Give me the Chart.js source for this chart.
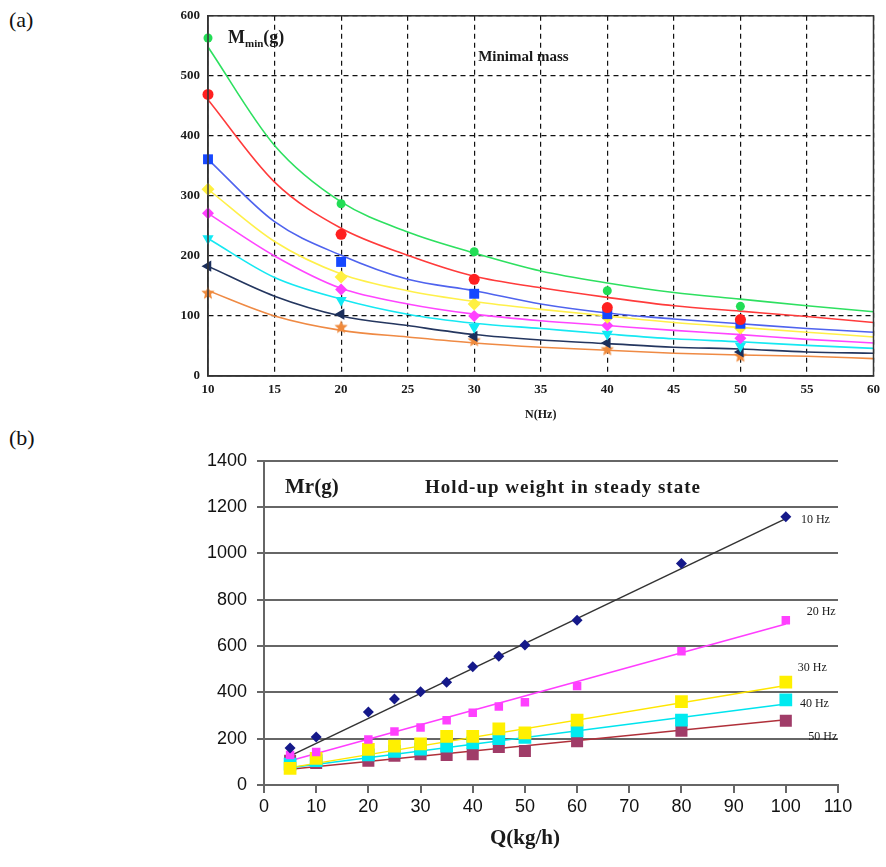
<!DOCTYPE html>
<html>
<head>
<meta charset="utf-8">
<script src="https://cdn.jsdelivr.net/npm/chart.js@4.4.1/dist/chart.umd.min.js"></script>
<style>
  body { margin: 0; background: #fff; width: 886px; height: 867px; position: relative; overflow: hidden; }
  canvas { position: absolute; }
  .tag { position: absolute; font-family: "Liberation Serif", serif; font-size: 22px; color: #111; }
</style>
</head>
<body>
<div class="tag" style="left:9px; top:7px;">(a)</div>
<div class="tag" style="left:9px; top:425px;">(b)</div>
<canvas id="chartA" width="736" height="430" style="left:150px; top:0px;"></canvas>
<canvas id="chartB" width="736" height="427" style="left:150px; top:440px;"></canvas>
<script>
// ---- (a) minimal mass vs frequency ----
const nHz = [10, 20, 30, 40, 50];
const mGreen = [563, 287, 207, 142, 116];
const mRed = [469, 236, 161, 114, 94];
const mBlue = [361, 190, 137, 103, 87];
const mYellow = [311, 165, 120, 98, 80];
const mMagenta = [271, 144, 100, 84, 63];
const mCyan = [229, 126, 81, 70, 50];
const mNavy = [183, 103, 66, 55, 40];
const mOrange = [138, 81, 59, 44, 33];

// fitted curves read at every 5 Hz
const nCurve = [10, 15, 20, 25, 30, 35, 40, 45, 50, 55, 60];
const cGreen = [548, 384, 290, 240, 205, 175, 155, 139, 128, 117, 107];
const cRed = [460, 323, 246, 201, 166, 147, 131, 117, 108, 99, 89];
const cBlue = [361, 257, 201, 161, 142, 120, 105, 95, 87, 79, 73];
const cYellow = [311, 224, 170, 142, 124, 111, 100, 89, 81, 73, 65];
const cMagenta = [271, 200, 146, 120, 103, 92, 84, 76, 69, 61, 55];
const cCyan = [229, 164, 128, 103, 88, 79, 70, 62, 57, 51, 46];
const cNavy = [183, 133, 100, 84, 69, 60, 54, 48, 45, 40, 38];
const cOrange = [142, 100, 76, 65, 55, 48, 43, 38, 35, 33, 29];

// ---- (b) hold-up weight vs flow rate ----
const qFlow = [5, 10, 20, 25, 30, 35, 40, 45, 50, 60, 80, 100];
const hz10 = [160, 207, 315, 371, 403, 444, 511, 556, 605, 711, 957, 1158];
const hz20 = [130, 143, 196, 231, 248, 280, 312, 339, 357, 427, 578, 711];
const hz30 = [72, 115, 154, 168, 178, 210, 210, 242, 225, 280, 360, 444];
const hz40 = [90, 105, 130, 145, 155, 168, 182, 200, 206, 234, 280, 368];
const hz50 = [105, 95, 105, 126, 133, 130, 133, 164, 147, 189, 234, 277];

const fitQ = [5, 100];
const fit10 = [126, 1150];
const fit20 = [105, 695];
const fit30 = [75, 430];
const fit40 = [75, 350];
const fit50 = [68, 282];

const hzLabels = ['10 Hz', '20 Hz', '30 Hz', '40 Hz', '50 Hz'];
const hzLabelX = [102.9, 104, 102.3, 102.7, 104.3];
const hzLabelY = [1143, 748, 504, 349, 210];

const serif = '"Liberation Serif", "Times New Roman", serif';

function pts(xs, ys) {
    return xs.map((x, i) => ({ x: x, y: ys[i] }));
}

// filled five point star for the orange series
function starImage(color, r) {
    const c = document.createElement('canvas');
    c.width = r * 2 + 2;
    c.height = r * 2 + 2;
    const g = c.getContext('2d');
    g.fillStyle = color;
    g.beginPath();
    for (let i = 0; i < 10; i++) {
        const rr = i % 2 === 0 ? r : r * 0.45;
        const a = -Math.PI / 2 + i * Math.PI / 5;
        const px = r + 1 + rr * Math.cos(a);
        const py = r + 1 + rr * Math.sin(a);
        if (i === 0) g.moveTo(px, py); else g.lineTo(px, py);
    }
    g.closePath();
    g.fill();
    return c;
}

function curve(ys, color) {
    return {
        type: 'line', data: pts(nCurve, ys), borderColor: color, borderWidth: 1.6,
        pointRadius: 0, cubicInterpolationMode: 'monotone', order: 2
    };
}
function marks(ys, color, style, radius, rotation) {
    return {
        type: 'scatter', data: pts(nHz, ys), backgroundColor: color, borderColor: color,
        pointStyle: style, pointRadius: radius, pointRotation: rotation || 0, borderWidth: 0,
        order: 1, clip: false
    };
}

const frameA = {
    id: 'frameA',
    afterDraw(chart) {
        const { ctx, chartArea: a, scales } = chart;
        ctx.save();
        ctx.strokeStyle = '#333';
        ctx.lineWidth = 1.5;
        ctx.strokeRect(a.left, a.top, a.right - a.left, a.bottom - a.top);
        ctx.fillStyle = '#1a1a1a';
        ctx.textBaseline = 'alphabetic';
        ctx.textAlign = 'left';
        let x = a.left + 20;
        const yb = a.top + 27;
        ctx.font = 'bold 18px ' + serif;
        ctx.fillText('M', x, yb);
        x += ctx.measureText('M').width;
        ctx.font = 'bold 11px ' + serif;
        ctx.fillText('min', x, yb + 4);
        x += ctx.measureText('min').width;
        ctx.font = 'bold 18px ' + serif;
        ctx.fillText('(g)', x, yb);
        ctx.font = 'bold 15px ' + serif;
        ctx.fillText('Minimal mass', scales.x.getPixelForValue(30.3), a.top + 45);
        ctx.restore();
    }
};

new Chart(document.getElementById('chartA'), {
    data: {
        datasets: [
            curve(cGreen, '#2ee060'), curve(cRed, '#ff3b3b'), curve(cBlue, '#4f63ee'),
            curve(cYellow, '#fff04a'), curve(cMagenta, '#ff45ff'), curve(cCyan, '#16e8f2'),
            curve(cNavy, '#24365f'), curve(cOrange, '#ef8a44'),
            marks(mGreen, '#22dd55', 'circle', 4.5),
            marks(mRed, '#ff2020', 'circle', 5.5),
            marks(mBlue, '#1648ff', 'rect', 7),
            marks(mYellow, '#fff040', 'rectRot', 6.5),
            marks(mMagenta, '#ff40ff', 'rectRot', 6),
            marks(mCyan, '#10eaf5', 'triangle', 6.5, 180),
            marks(mNavy, '#1b2f5c', 'triangle', 6.5, -90),
            marks(mOrange, '#ef8a3c', starImage('#ef8a3c', 7), 7)
        ]
    },
    options: {
        responsive: false,
        animation: false,
        layout: { padding: { top: 12, right: 9, left: 0, bottom: 8 } },
        plugins: { legend: { display: false }, tooltip: { enabled: false } },
        scales: {
            x: {
                type: 'linear', min: 10, max: 60,
                ticks: { stepSize: 5, color: '#1a1a1a', padding: 6, font: { family: serif, size: 13, weight: 'bold' } },
                grid: { color: '#111', lineWidth: 1.2, drawTicks: false },
                border: { display: true, color: '#333', width: 1.5, dash: [5, 4] },
                title: { display: true, text: 'N(Hz)', color: '#1a1a1a', padding: { top: 0, bottom: 0 }, font: { family: serif, size: 12, weight: 'bold' } },
                afterFit(s) { s.height = 46; }
            },
            y: {
                min: 0, max: 600,
                ticks: { stepSize: 100, color: '#1a1a1a', padding: 8, font: { family: serif, size: 13, weight: 'bold' } },
                grid: { color: '#111', lineWidth: 1.2, drawTicks: false },
                border: { display: true, color: '#333', width: 1.5, dash: [5, 4] },
                afterFit(s) { s.width = 58; }
            }
        }
    },
    plugins: [frameA]
});

// ---- chart (b) ----
function fitLine(ys, color) {
    return { type: 'line', data: pts(fitQ, ys), borderColor: color, borderWidth: 1.5, pointRadius: 0, order: 2 };
}
function dots(ys, color, style, radius) {
    return {
        type: 'scatter', data: pts(qFlow, ys), backgroundColor: color, borderColor: color,
        pointStyle: style, pointRadius: radius, borderWidth: 0, order: 1
    };
}

const textB = {
    id: 'textB',
    afterDraw(chart) {
        const { ctx, chartArea: a, scales } = chart;
        ctx.save();
        ctx.fillStyle = '#1a1a1a';
        ctx.textBaseline = 'middle';
        ctx.textAlign = 'left';
        ctx.font = 'bold 21px ' + serif;
        ctx.fillText('Mr(g)', a.left + 21, a.top + 27);
        ctx.font = 'bold 19px ' + serif;
        ctx.letterSpacing = '1px';
        ctx.fillText('Hold-up weight in steady state', a.left + 161, a.top + 27);
        ctx.letterSpacing = '0px';
        ctx.font = '12px ' + serif;
        hzLabels.forEach((t, i) => {
            ctx.fillText(t, scales.x.getPixelForValue(hzLabelX[i]), scales.y.getPixelForValue(hzLabelY[i]));
        });
        ctx.textAlign = 'center';
        ctx.font = 'bold 21px ' + serif;
        ctx.fillText('Q(kg/h)', scales.x.getPixelForValue(50), a.bottom + 54);
        ctx.restore();
    }
};

const sansTicks = { family: '"Liberation Sans", Arial, sans-serif', size: 18 };

new Chart(document.getElementById('chartB'), {
    data: {
        datasets: [
            fitLine(fit10, '#333'), fitLine(fit20, '#ff3dff'), fitLine(fit30, '#ffe600'),
            fitLine(fit40, '#00e4ee'), fitLine(fit50, '#b0303a'),
            dots(hz10, '#15198a', 'rectRot', 5.5),
            dots(hz20, '#ff40ff', 'rect', 6),
            dots(hz30, '#fff000', 'rect', 9),
            dots(hz40, '#00eaf0', 'rect', 9),
            dots(hz50, '#a03c68', 'rect', 8.5)
        ]
    },
    options: {
        responsive: false,
        animation: false,
        layout: { padding: { top: 12, right: 48, left: 0, bottom: 0 } },
        plugins: { legend: { display: false }, tooltip: { enabled: false } },
        scales: {
            x: {
                type: 'linear', min: 0, max: 110,
                ticks: { stepSize: 10, color: '#111', padding: 3, font: sansTicks, callback: v => String(v) },
                grid: { drawOnChartArea: false, drawTicks: true, tickLength: 8, color: '#666', lineWidth: 2 },
                border: { display: true, color: '#666', width: 2 },
                afterFit(s) { s.height = 82; }
            },
            y: {
                min: 0, max: 1400,
                ticks: { stepSize: 200, color: '#111', padding: 10, font: sansTicks, callback: v => String(v) },
                grid: { drawTicks: true, tickLength: 7, color: '#666', lineWidth: 2 },
                border: { display: true, color: '#666', width: 2 },
                afterFit(s) { s.width = 114; }
            }
        }
    },
    plugins: [textB]
});
</script>
</body>
</html>
